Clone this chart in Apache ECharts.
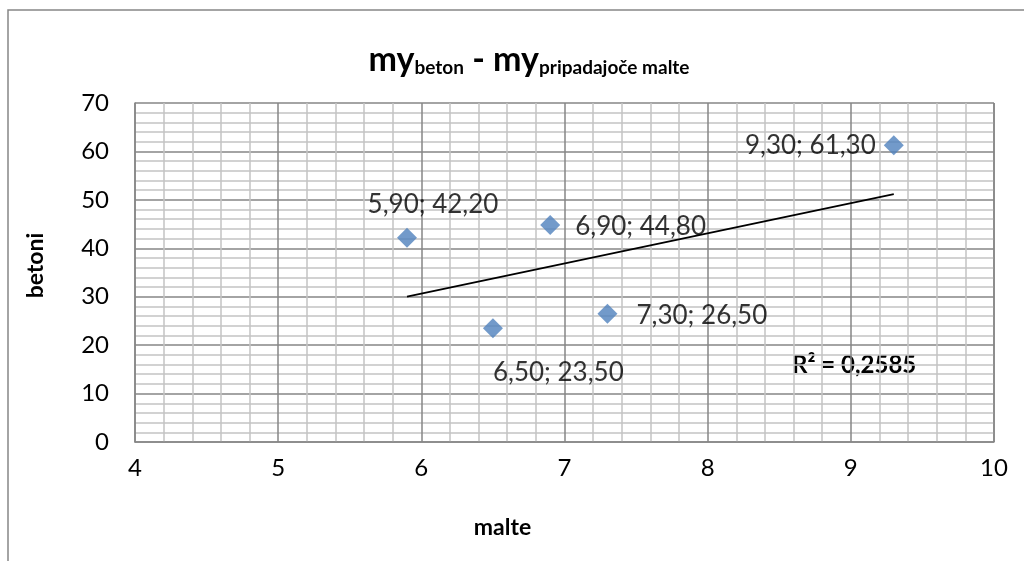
<!DOCTYPE html>
<html>
<head>
<meta charset="utf-8">
<script src="https://cdn.jsdelivr.net/npm/echarts@6/dist/echarts.min.js"></script>
<style>
html,body{margin:0;padding:0;background:#fff;}
#chart{width:1024px;height:561px;}
</style>
</head>
<body>
<div id="chart"></div>
<script>
// ---- data ----
var malteValues  = [5.9, 6.5, 6.9, 7.3, 9.3];
var betoniValues = [42.2, 23.5, 44.8, 26.5, 61.3];
var pointLabels  = ['5,90; 42,20', '6,50; 23,50', '6,90; 44,80', '7,30; 26,50', '9,30; 61,30'];
var trendX = [5.9, 9.3];
var trendY = [30.0, 51.2];
var rSquaredText = 'R² = 0,2585';
var xTicks = [4, 5, 6, 7, 8, 9, 10];
var yTicks = [0, 10, 20, 30, 40, 50, 60, 70];

// ---- label placement (style only) ----
var labelLayouts = [
  {position: [36, -23], align: 'center'},
  {position: [10, 54], align: 'left'},
  {position: [35, 12], align: 'left'},
  {position: [39, 12], align: 'left'},
  {position: [-8, 10], align: 'right'}
];

var FONT = 'Lato';
var scatterData = malteValues.map(function (x, i) {
  return {
    value: [x, betoniValues[i]],
    label: {
      show: true,
      formatter: pointLabels[i],
      position: labelLayouts[i].position,
      align: labelLayouts[i].align,
      verticalAlign: 'middle',
      color: '#000',
      fontFamily: FONT,
      fontSize: 26
    }
  };
});
var trendData = trendX.map(function (x, i) { return [x, trendY[i]]; });

var chart = echarts.init(document.getElementById('chart'), null, {renderer: 'canvas'});
chart.setOption({
  animation: false,
  backgroundColor: '#fff',
  title: {
    left: 524,
    top: 38,
    textAlign: 'center',
    text: '{a|my}{b|beton}{a| - my}{b|pripadajoče malte}',
    textStyle: {
      rich: {
        a: {fontFamily: FONT, fontWeight: 'bold', fontSize: 34, lineHeight: 34, padding: [0, 0, 8, 0], verticalAlign: 'top', color: '#000'},
        b: {fontFamily: FONT, fontWeight: 'bold', fontSize: 19, lineHeight: 19, verticalAlign: 'bottom', color: '#000'}
      }
    }
  },
  grid: {left: 135, right: 30, top: 103, bottom: 119, show: false},
  xAxis: {
    type: 'value',
    min: xTicks[0], max: xTicks[xTicks.length - 1], interval: 1,
    name: 'malte', nameLocation: 'middle', nameGap: 74,
    nameTextStyle: {fontFamily: FONT, fontWeight: 'bold', fontSize: 23, color: '#000', padding: [0, 124, 0, 0]},
    axisLine: {show: true, lineStyle: {color: '#868686', width: 1.5}},
    axisTick: {show: false},
    axisLabel: {fontFamily: FONT, fontSize: 24, color: '#000', margin: 14},
    splitLine: {show: true, lineStyle: {color: '#868686', width: 1.5}},
    minorTick: {show: false, splitNumber: 5},
    minorSplitLine: {show: true, lineStyle: {color: '#c3c3c3', width: 1.5}}
  },
  yAxis: {
    type: 'value',
    min: yTicks[0], max: yTicks[yTicks.length - 1], interval: 10,
    name: 'betoni', nameLocation: 'middle', nameGap: 88, nameRotate: 90,
    nameTextStyle: {fontFamily: FONT, fontWeight: 'bold', fontSize: 23, color: '#000', padding: [0, 0, 0, 14]},
    axisLine: {show: true, lineStyle: {color: '#868686', width: 1.5}},
    axisTick: {show: false},
    axisLabel: {fontFamily: FONT, fontSize: 24, color: '#000', margin: 26},
    splitLine: {show: true, lineStyle: {color: '#868686', width: 1.5}},
    minorTick: {show: false, splitNumber: 5},
    minorSplitLine: {show: true, lineStyle: {color: '#c3c3c3', width: 1.5}}
  },
  series: [
    {
      type: 'line',
      data: trendData,
      symbol: 'none',
      lineStyle: {color: '#000', width: 1.8},
      z: 3
    },
    {
      type: 'scatter',
      data: scatterData,
      symbol: 'diamond',
      symbolSize: 20,
      itemStyle: {color: '#4f81bd'},
      z: 4
    }
  ],
  graphic: [
    {
      type: 'rect',
      shape: {x: 8, y: 10, width: 1040, height: 580},
      style: {fill: 'none', stroke: '#868686', lineWidth: 1.5},
      silent: true
    },
    {
      type: 'text',
      left: 792, top: 353,
      style: {text: rSquaredText, fontFamily: FONT, fontWeight: 'bold', fontSize: 24, fill: '#000'}
    },
    {
      type: 'rect',
      shape: {x: 994, y: 103, width: 0, height: 339},
      style: {fill: 'none', stroke: '#868686', lineWidth: 1.5},
      silent: true
    }
  ]
});
</script>
</body>
</html>
